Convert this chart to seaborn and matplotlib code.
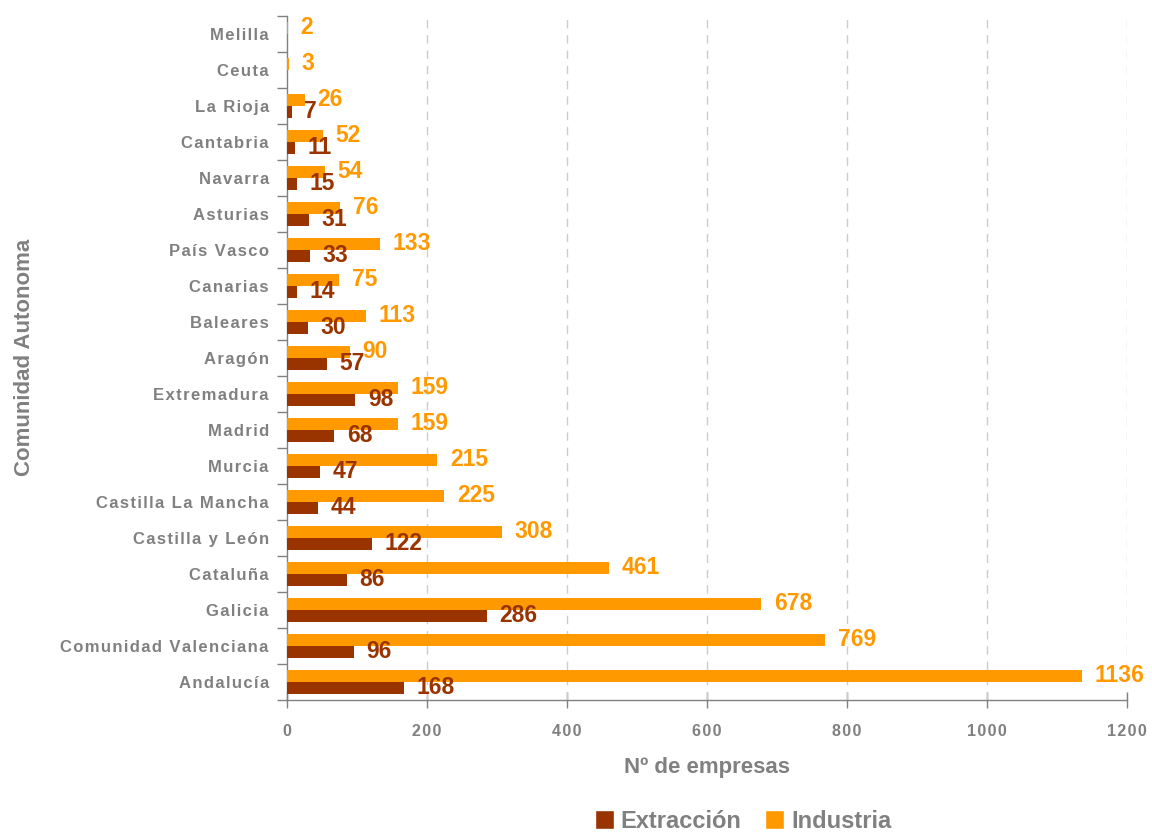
import matplotlib
matplotlib.use("Agg")
import matplotlib.pyplot as plt
from matplotlib.patches import Patch
from matplotlib.ticker import FixedLocator
import seaborn as sns
import pandas as pd

comunidades = ["Melilla", "Ceuta", "La Rioja", "Cantabria", "Navarra", "Asturias",
               "País Vasco", "Canarias", "Baleares", "Aragón", "Extremadura", "Madrid",
               "Murcia", "Castilla La Mancha", "Castilla y León", "Cataluña", "Galicia",
               "Comunidad Valenciana", "Andalucía"]
industria = [2, 3, 26, 52, 54, 76, 133, 75, 113, 90, 159, 159, 215, 225, 308, 461, 678, 769, 1136]
extraccion = [0, 0, 7, 11, 15, 31, 33, 14, 30, 57, 98, 68, 47, 44, 122, 86, 286, 96, 168]
x_ticks = [0, 200, 400, 600, 800, 1000, 1200]

col_ind = "#FF9900"
col_ext = "#993300"
gray = "#808080"

df = pd.DataFrame({
    "Comunidad": comunidades * 2,
    "Serie": ["Industria"] * len(comunidades) + ["Extracción"] * len(comunidades),
    "Valor": industria + extraccion,
})

sns.set_theme(style="white")
plt.rcParams["font.family"] = ["Liberation Sans", "DejaVu Sans"]


def spaced(s):
    # open letter spacing for axis labels
    return "\u200a".join(s)


fig, ax = plt.subplots(figsize=(11.52, 8.32), dpi=100)
fig.subplots_adjust(left=0.249, right=0.978, top=0.981, bottom=0.159)

sns.barplot(data=df, y="Comunidad", x="Valor", hue="Serie", order=comunidades,
            hue_order=["Industria", "Extracción"],
            palette={"Industria": col_ind, "Extracción": col_ext},
            orient="h", width=0.66, saturation=1, linewidth=0, legend=False,
            ax=ax, zorder=3)

# value labels at the end of each bar
for cont, vals, col in [(ax.containers[0], industria, col_ind),
                        (ax.containers[1], extraccion, col_ext)]:
    labels = [str(v) if v > 0 else "" for v in vals]
    ax.bar_label(cont, labels=labels, padding=9, color=col, fontsize=16.5,
                 fontweight="bold", zorder=4)

ax.set_xlim(0, 1200)
ax.set_ylim(len(comunidades) - 0.5, -0.5)
ax.set_xticks(x_ticks)
ax.set_xticklabels([spaced(str(t)) for t in x_ticks], color=gray, fontsize=11.5,
                   fontweight="bold")
ax.tick_params(axis="x", bottom=True, direction="inout", length=11, width=1,
               color=gray, pad=12)

ax.set_yticks(range(len(comunidades)))
ax.set_yticklabels([spaced(c) for c in comunidades], color=gray, fontsize=12,
                   fontweight="bold")
ax.tick_params(axis="y", which="major", left=True, length=0, pad=13)
ax.yaxis.set_minor_locator(FixedLocator([i - 0.5 for i in range(len(comunidades) + 1)]))
ax.tick_params(axis="y", which="minor", left=True, direction="out", length=7, width=1,
               color=gray)

for x in x_ticks[1:]:
    ax.axvline(x, color="#cccccc", linestyle=(0, (6, 5)), linewidth=1, zorder=1)

for s in ["top", "right"]:
    ax.spines[s].set_visible(False)
for s in ["left", "bottom"]:
    ax.spines[s].set_color(gray)
    ax.spines[s].set_linewidth(1)

ax.set_xlabel("Nº de empresas", color=gray, fontsize=16, fontweight="bold", labelpad=13)
ax.set_ylabel("Comunidad Autonoma", color=gray, fontsize=16, fontweight="bold")
ax.yaxis.set_label_coords(-0.300, 0.5)

handles = [Patch(facecolor=col_ext, label="Extracción"),
           Patch(facecolor=col_ind, label="Industria")]
fig.legend(handles=handles, loc="center", bbox_to_anchor=(0.645, 0.013), ncol=2,
           frameon=False, handlelength=0.8, handleheight=0.8, handletextpad=0.3,
           columnspacing=1.0, prop={"size": 17, "weight": "bold"}, labelcolor=gray)

fig.savefig("out.png", dpi=100)
